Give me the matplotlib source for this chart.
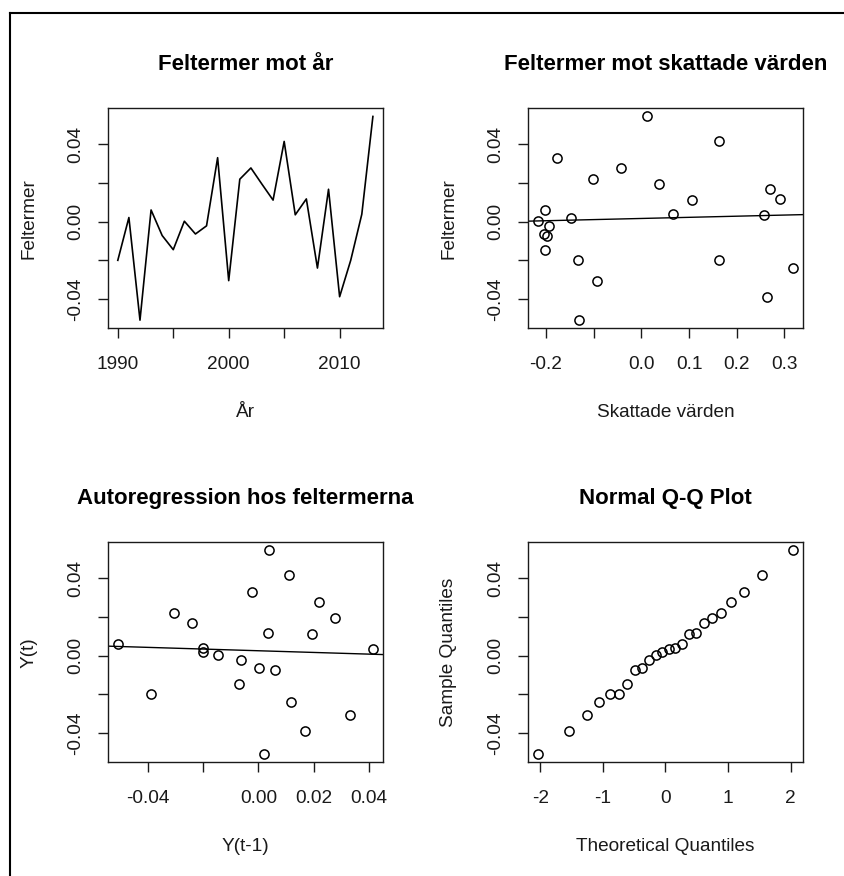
import numpy as np
import matplotlib
matplotlib.use("Agg")
import matplotlib.pyplot as plt
from matplotlib.lines import Line2D
from matplotlib.ticker import FixedLocator, FixedFormatter
from statistics import NormalDist

plt.rcParams['font.family'] = ['Liberation Sans', 'DejaVu Sans']
plt.rcParams['axes.unicode_minus'] = False

# Residuals of the yearly model and its fitted values
years = list(range(1990, 2014))
residuals = [-0.0200, 0.0021, -0.0509, 0.0060, -0.0072, -0.0145, 0.0002, -0.0064,
             -0.0022, 0.0330, -0.0305, 0.0219, 0.0277, 0.0193, 0.0111, 0.0414,
             0.0035, 0.0117, -0.0240, 0.0167, -0.0388, -0.0200, 0.0038, 0.0543]
fitted = [-0.132, -0.147, -0.131, -0.203, -0.198, -0.203, -0.217, -0.205,
          -0.193, -0.176, -0.093, -0.102, -0.043, 0.037, 0.107, 0.162,
          0.257, 0.291, 0.318, 0.270, 0.263, 0.162, 0.067, 0.011]

# Tick positions and labels (some labels left blank where they would crowd)
resid_ticks = [-0.04, -0.02, 0.00, 0.02, 0.04]
resid_ticklabels = ['-0.04', '', '0.00', '', '0.04']
year_ticks = [1990, 1995, 2000, 2005, 2010]
year_ticklabels = ['1990', '', '2000', '', '2010']
fit_ticks = [-0.2, -0.1, 0.0, 0.1, 0.2, 0.3]
fit_ticklabels = ['-0.2', '', '0.0', '0.1', '0.2', '0.3']
lag_ticks = [-0.04, -0.02, 0.00, 0.02, 0.04]
lag_ticklabels = ['-0.04', '', '0.00', '0.02', '0.04']
qq_ticks = [-2, -1, 0, 1, 2]
qq_ticklabels = ['-2', '-1', '0', '1', '2']

titles = ['Feltermer mot år', 'Feltermer mot skattade värden',
          'Autoregression hos feltermerna', 'Normal Q-Q Plot']
xlabels = ['År', 'Skattade värden', 'Y(t-1)', 'Theoretical Quantiles']
ylabels = ['Feltermer', 'Feltermer', 'Y(t)', 'Sample Quantiles']

W, H = 844, 876
fig = plt.figure(figsize=(W / 100, H / 100), dpi=100)

ax_w, ax_h = 275.5 / W, 220 / H
lefts = [107.6 / W, 527.7 / W]
bottoms = [1 - 328.3 / H, 1 - 762.3 / H]
axes = [fig.add_axes([lefts[c], bottoms[r], ax_w, ax_h]) for r in range(2) for c in range(2)]

INK = '#1a1a1a'
TICK_FS = 13.7


def padded(vals):
    lo, hi = min(vals), max(vals)
    r = hi - lo
    return lo - 0.04 * r, hi + 0.04 * r


def style(ax, title, xlabel, ylabel, xt, xtl, yt, ytl):
    for s in ax.spines.values():
        s.set_color(INK)
        s.set_linewidth(1.0)
    ax.xaxis.set_major_locator(FixedLocator(xt))
    ax.xaxis.set_major_formatter(FixedFormatter(xtl))
    ax.yaxis.set_major_locator(FixedLocator(yt))
    ax.yaxis.set_major_formatter(FixedFormatter(ytl))
    ax.tick_params(axis='both', direction='out', length=7.2, width=1.0,
                   color=INK, labelcolor=INK, labelsize=TICK_FS)
    ax.tick_params(axis='x', pad=13)
    ax.tick_params(axis='y', pad=9.5)
    for lab in ax.get_yticklabels():
        lab.set_rotation(90)
        lab.set_va('center')
    ax.set_title(title, fontsize=16, fontweight='bold', color='black',
                 y=1 + 38 / 220, pad=0)
    ax.set_xlabel(xlabel, fontsize=TICK_FS, color=INK)
    ax.xaxis.label.set_va('baseline')
    ax.xaxis.set_label_coords(0.5, -89 / 220)
    ax.set_ylabel(ylabel, fontsize=TICK_FS, color=INK)
    ax.yaxis.set_label_coords(-0.255, 0.5)


marker_kw = dict(marker='o', linestyle='none', markersize=6.6,
                 markerfacecolor='none', markeredgecolor='black', markeredgewidth=1.1)

# 1: residuals over time
ax = axes[0]
ax.plot(years, residuals, color='black', lw=1.2)
ax.set_xlim(*padded(years))
ax.set_ylim(*padded(residuals))
style(ax, titles[0], xlabels[0], ylabels[0], year_ticks, year_ticklabels,
      resid_ticks, resid_ticklabels)

# 2: residuals against fitted values with least-squares line
ax = axes[1]
ax.plot(fitted, residuals, **marker_kw)
xl = padded(fitted)
ax.set_xlim(*xl)
ax.set_ylim(*padded(residuals))
b, a = np.polyfit(fitted, residuals, 1)
xs = np.array(xl)
ax.plot(xs, a + b * xs, color='black', lw=1.0)
style(ax, titles[1], xlabels[1], ylabels[1], fit_ticks, fit_ticklabels,
      resid_ticks, resid_ticklabels)

# 3: lag-one scatter of residuals
ax = axes[2]
lag_x = residuals[:-1]
lag_y = residuals[1:]
ax.plot(lag_x, lag_y, **marker_kw)
xl = padded(lag_x)
ax.set_xlim(*xl)
ax.set_ylim(*padded(lag_y))
b, a = np.polyfit(lag_x, lag_y, 1)
xs = np.array(xl)
ax.plot(xs, a + b * xs, color='black', lw=1.0)
style(ax, titles[2], xlabels[2], ylabels[2], lag_ticks, lag_ticklabels,
      resid_ticks, resid_ticklabels)

# 4: normal Q-Q plot
ax = axes[3]
n = len(residuals)
probs = (np.arange(1, n + 1) - 0.5) / n
theo = [NormalDist().inv_cdf(p) for p in probs]
samp = sorted(residuals)
ax.plot(theo, samp, **marker_kw)
ax.set_xlim(*padded(theo))
ax.set_ylim(*padded(samp))
style(ax, titles[3], xlabels[3], ylabels[3], qq_ticks, qq_ticklabels,
      resid_ticks, resid_ticklabels)

# frame lines along the top and left edges
x_edge = 10 / W
y_edge = 1 - 12.5 / H
fig.add_artist(Line2D([x_edge, x_edge], [0, y_edge], transform=fig.transFigure,
                      color='black', lw=1.5))
fig.add_artist(Line2D([x_edge, 1], [y_edge, y_edge], transform=fig.transFigure,
                      color='black', lw=1.5))

fig.savefig('out.png', dpi=100, facecolor='white')
